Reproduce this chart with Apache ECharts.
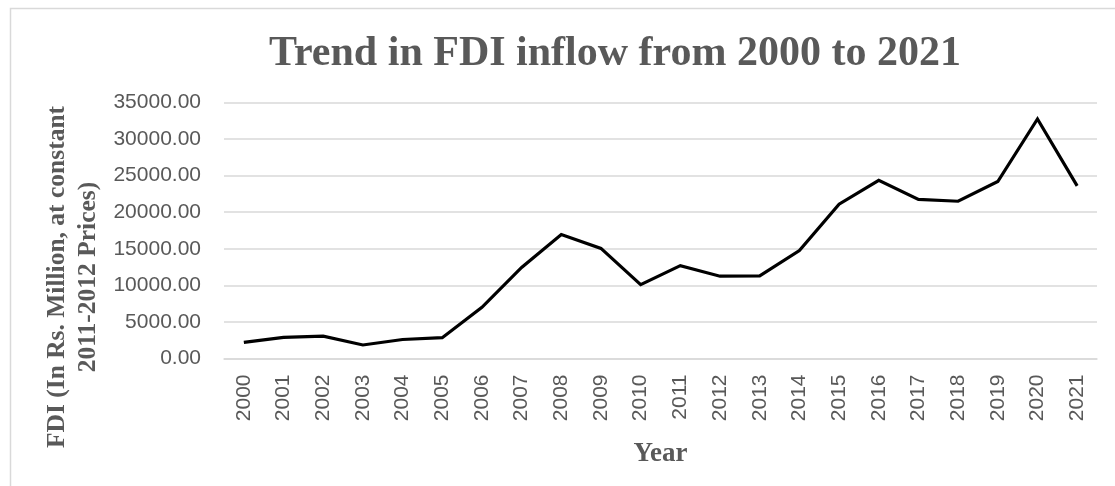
<!DOCTYPE html>
<html>
<head>
<meta charset="utf-8">
<script src="https://cdn.jsdelivr.net/npm/echarts@6/dist/echarts.min.js"></script>
<style>
  html, body { margin: 0; padding: 0; background: #ffffff; }
  #chart { width: 1115px; height: 486px; }
</style>
</head>
<body>
<div id="chart"></div>
<script>
// FDI inflow, Rs. Million at constant 2011-2012 prices
const years = ['2000', '2001', '2002', '2003', '2004', '2005', '2006', '2007', '2008', '2009', '2010',
               '2011', '2012', '2013', '2014', '2015', '2016', '2017', '2018', '2019', '2020', '2021'];
const fdiValues = [2200, 2900, 3050, 1850, 2600, 2850, 7000, 12450, 16950, 15050, 10100,
                   12700, 11250, 11300, 14750, 21100, 24350, 21750, 21500, 24200, 32750, 23600];

const titleText = 'Trend in FDI inflow from 2000 to 2021';
const xAxisTitle = 'Year';
const yAxisTitleLines = ['FDI (In Rs. Million, at constant', '2011-2012 Prices)'];

const grey = '#595959';
const serif = '"Liberation Serif", "Times New Roman", serif';
const sans = '"Liberation Sans", Arial, sans-serif';

const chart = echarts.init(document.getElementById('chart'), null, { renderer: 'canvas' });

chart.setOption({
  backgroundColor: '#ffffff',
  animation: false,
  title: {
    text: titleText,
    left: 610,
    textAlign: 'center',
    top: 28,
    textStyle: { fontFamily: serif, fontWeight: 'bold', fontSize: 42, color: grey }
  },
  graphic: [
    {
      type: 'rect',
      left: 8, top: 6,
      shape: { width: 1300, height: 700 },
      style: { fill: 'none', stroke: '#d9d9d9', lineWidth: 1.5 },
      silent: true, z: -1
    },
    {
      type: 'text',
      x: 73, y: 277,
      rotation: Math.PI / 2,
      style: {
        text: yAxisTitleLines.join('\n'),
        fontFamily: serif, fontWeight: 'bold', fontSize: 25.5,
        lineHeight: 31,
        fill: grey,
        align: 'center',
        verticalAlign: 'middle'
      }
    }
  ],
  grid: { left: 224, right: 18, top: 102.5, bottom: 127.5, containLabel: false },
  xAxis: {
    type: 'category',
    data: years,
    boundaryGap: true,
    axisLine: { lineStyle: { color: '#d9d9d9', width: 1.5 } },
    axisTick: { show: false },
    axisLabel: { rotate: 90, margin: 16, fontFamily: sans, fontSize: 21, color: grey },
    name: xAxisTitle,
    nameLocation: 'middle',
    nameGap: 82,
    nameTextStyle: { fontFamily: serif, fontWeight: 'bold', fontSize: 27, color: grey }
  },
  yAxis: {
    type: 'value',
    min: 0, max: 35000, interval: 5000,
    axisLine: { show: false },
    axisTick: { show: false },
    splitLine: { lineStyle: { color: '#d9d9d9', width: 1.5 } },
    axisLabel: {
      margin: 23, fontFamily: sans, fontSize: 21, color: grey,
      formatter: v => v.toFixed(2)
    }
  },
  series: [{
    type: 'line',
    data: fdiValues,
    symbol: 'none',
    smooth: false,
    lineStyle: { color: '#000000', width: 3.2, join: 'miter' }
  }]
});
</script>
</body>
</html>
